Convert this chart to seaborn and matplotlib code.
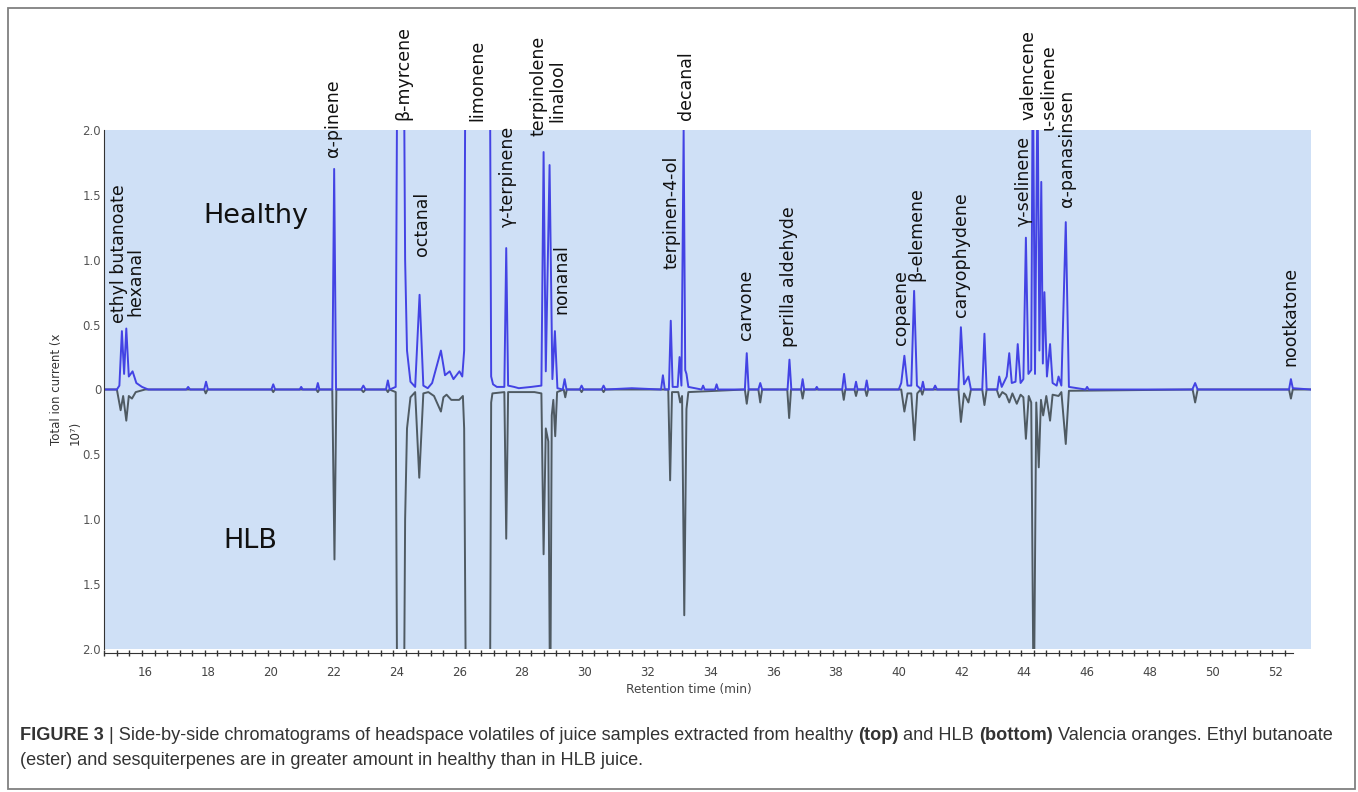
import numpy as np
import pandas as pd
import seaborn as sns
import matplotlib.pyplot as plt
from matplotlib.patches import Rectangle
from matplotlib.ticker import FixedLocator

# healthy juice chromatogram: (retention time in min, total ion current x1e7)
healthy_trace = [
    (14.69, 0.0), (15.10, 0.0), (15.18, 0.03), (15.26, 0.45), (15.33, 0.12),
    (15.40, 0.47), (15.48, 0.10), (15.60, 0.14), (15.72, 0.05), (15.90, 0.02),
    (16.10, 0.0), (17.31, 0.0), (17.37, 0.02), (17.43, 0.0), (17.88, 0.0),
    (17.94, 0.06), (18.00, 0.0), (20.02, 0.0), (20.08, 0.04), (20.14, 0.0),
    (20.92, 0.0), (20.97, 0.02), (21.02, 0.0), (21.45, 0.0), (21.50, 0.05),
    (21.55, 0.0), (21.96, 0.0), (22.02, 1.70), (22.08, 0.0), (22.88, 0.0),
    (22.95, 0.03), (23.02, 0.0), (23.67, 0.0), (23.73, 0.07), (23.79, 0.0),
    (23.98, 0.02), (24.03, 2.60), (24.24, 2.60), (24.28, 1.00), (24.34, 0.30),
    (24.45, 0.06), (24.60, 0.02), (24.74, 0.73), (24.86, 0.03), (25.00, 0.01),
    (25.14, 0.05), (25.24, 0.14), (25.42, 0.30), (25.55, 0.11), (25.70, 0.14),
    (25.82, 0.08), (26.01, 0.14), (26.10, 0.10), (26.16, 0.30), (26.20, 2.60),
    (26.98, 2.60), (27.02, 0.10), (27.08, 0.04), (27.20, 0.02), (27.44, 0.02),
    (27.50, 1.09), (27.56, 0.03), (27.75, 0.02), (27.90, 0.01), (28.30, 0.02),
    (28.62, 0.03), (28.69, 1.83), (28.76, 0.14), (28.88, 1.73), (28.97, 0.08),
    (29.05, 0.45), (29.13, 0.01), (29.30, 0.0), (29.36, 0.08), (29.42, 0.0),
    (29.84, 0.0), (29.90, 0.03), (29.96, 0.0), (30.54, 0.0), (30.60, 0.03),
    (30.66, 0.0), (31.50, 0.01), (32.43, 0.0), (32.49, 0.11), (32.55, 0.0),
    (32.68, 0.0), (32.74, 0.53), (32.80, 0.02), (32.96, 0.02), (33.02, 0.25),
    (33.08, 0.03), (33.15, 2.00), (33.20, 0.15), (33.24, 0.12), (33.30, 0.02),
    (33.72, 0.0), (33.77, 0.03), (33.82, 0.0), (34.15, 0.0), (34.20, 0.04),
    (34.25, 0.0), (35.10, 0.0), (35.16, 0.28), (35.22, 0.0), (35.53, 0.0),
    (35.59, 0.05), (35.65, 0.0), (36.46, 0.0), (36.52, 0.23), (36.58, 0.0),
    (36.89, 0.0), (36.94, 0.08), (36.99, 0.0), (37.34, 0.0), (37.39, 0.02),
    (37.44, 0.0), (38.20, 0.0), (38.26, 0.12), (38.32, 0.0), (38.59, 0.0),
    (38.64, 0.06), (38.69, 0.0), (38.93, 0.0), (38.98, 0.07), (39.03, 0.0),
    (40.00, 0.0), (40.08, 0.05), (40.18, 0.26), (40.28, 0.03), (40.40, 0.03),
    (40.49, 0.76), (40.58, 0.03), (40.72, 0.0), (40.77, 0.06), (40.82, 0.0),
    (41.10, 0.0), (41.16, 0.03), (41.22, 0.0), (41.90, 0.0), (41.98, 0.48),
    (42.08, 0.04), (42.22, 0.10), (42.30, 0.0), (42.66, 0.0), (42.73, 0.43),
    (42.80, 0.0), (43.14, 0.0), (43.20, 0.10), (43.28, 0.02), (43.44, 0.10),
    (43.52, 0.28), (43.60, 0.05), (43.72, 0.06), (43.79, 0.35), (43.88, 0.05),
    (43.97, 0.08), (44.05, 1.17), (44.13, 0.12), (44.22, 0.15), (44.27, 2.60),
    (44.34, 0.12), (44.42, 2.40), (44.48, 0.30), (44.54, 1.60), (44.59, 0.20),
    (44.64, 0.75), (44.72, 0.10), (44.82, 0.35), (44.90, 0.05), (45.03, 0.03),
    (45.09, 0.10), (45.18, 0.03), (45.32, 1.29), (45.42, 0.02), (45.95, 0.0),
    (46.00, 0.02), (46.05, 0.0), (49.35, 0.0), (49.44, 0.05), (49.52, 0.0),
    (52.43, 0.0), (52.49, 0.08), (52.55, 0.01), (53.13, 0.0),
]

# HLB juice chromatogram, drawn mirrored below the baseline
hlb_trace = [
    (14.69, 0.0), (15.10, 0.0), (15.22, -0.16), (15.30, -0.05), (15.40, -0.24),
    (15.48, -0.05), (15.58, -0.07), (15.70, -0.02), (16.00, 0.0), (17.88, 0.0),
    (17.93, -0.03), (17.99, 0.0), (20.03, 0.0), (20.08, -0.02), (20.13, 0.0),
    (21.45, 0.0), (21.50, -0.02), (21.55, 0.0), (21.96, 0.0), (22.03, -1.31),
    (22.09, 0.0), (22.88, 0.0), (22.95, -0.02), (23.02, 0.0), (23.68, 0.0),
    (23.73, -0.02), (23.78, 0.0), (23.98, -0.02), (24.03, -2.60), (24.24, -2.60),
    (24.28, -1.00), (24.34, -0.30), (24.45, -0.06), (24.60, -0.02), (24.73, -0.68),
    (24.86, -0.03), (25.02, -0.02), (25.20, -0.05), (25.42, -0.17), (25.50, -0.06),
    (25.60, -0.04), (25.75, -0.08), (26.00, -0.08), (26.12, -0.05), (26.16, -0.30),
    (26.22, -2.60), (26.98, -2.60), (27.02, -0.10), (27.06, -0.03), (27.44, -0.02),
    (27.50, -1.15), (27.56, -0.02), (28.40, -0.02), (28.62, -0.03), (28.69, -1.27),
    (28.76, -0.30), (28.84, -0.40), (28.90, -2.60), (28.95, -0.20), (29.00, -0.08),
    (29.06, -0.36), (29.12, -0.02), (29.33, 0.0), (29.38, -0.06), (29.43, 0.0),
    (29.85, 0.0), (29.90, -0.02), (29.95, 0.0), (30.55, 0.0), (30.60, -0.02),
    (30.65, 0.0), (32.66, 0.0), (32.72, -0.70), (32.78, -0.02), (32.98, -0.02),
    (33.04, -0.10), (33.10, -0.05), (33.17, -1.74), (33.24, -0.15), (33.30, -0.02),
    (35.10, 0.0), (35.16, -0.11), (35.22, 0.0), (35.53, 0.0), (35.59, -0.10),
    (35.65, 0.0), (36.45, 0.0), (36.51, -0.22), (36.57, 0.0), (36.89, 0.0),
    (36.94, -0.07), (36.99, 0.0), (38.20, 0.0), (38.25, -0.08), (38.30, 0.0),
    (38.59, 0.0), (38.64, -0.05), (38.69, 0.0), (38.93, 0.0), (38.98, -0.05),
    (39.03, 0.0), (40.08, 0.0), (40.18, -0.17), (40.28, -0.03), (40.40, -0.03),
    (40.50, -0.39), (40.59, -0.03), (40.70, 0.0), (40.75, -0.04), (40.80, 0.0),
    (41.90, 0.0), (41.98, -0.25), (42.08, -0.03), (42.22, -0.10), (42.30, 0.0),
    (42.66, 0.0), (42.73, -0.12), (42.80, 0.0), (43.12, 0.0), (43.20, -0.06),
    (43.30, -0.02), (43.42, -0.04), (43.52, -0.10), (43.62, -0.03), (43.76, -0.11),
    (43.88, -0.04), (43.97, -0.06), (44.05, -0.38), (44.14, -0.05), (44.22, -0.10),
    (44.30, -2.60), (44.38, -0.10), (44.46, -0.60), (44.53, -0.08), (44.60, -0.20),
    (44.70, -0.05), (44.82, -0.24), (44.90, -0.04), (45.09, -0.05), (45.18, -0.02),
    (45.32, -0.42), (45.42, -0.01), (49.36, 0.0), (49.44, -0.10), (49.52, 0.0),
    (52.43, 0.0), (52.49, -0.07), (52.55, 0.0), (53.13, 0.0),
]

# compound names written above their peaks
compounds = ["ethyl butanoate", "hexanal", "α-pinene", "β-myrcene", "octanal",
             "limonene", "γ-terpinene", "terpinolene", "linalool", "nonanal",
             "terpinen-4-ol", "decanal", "carvone", "perilla aldehyde", "copaene",
             "β-elemene", "caryophydene", "γ-selinene", "valencene", "ι-selinene",
             "α-panasinsen", "nootkatone"]
label_rt = [15.17, 15.68, 21.98, 24.21, 24.81, 26.59, 27.55, 28.53, 29.14, 29.26,
            32.76, 33.24, 35.15, 36.52, 40.08, 40.55, 41.99, 43.99, 44.12, 44.78,
            45.36, 52.48]
label_y = [0.51, 0.57, 1.79, 2.08, 1.03, 2.07, 1.25, 1.95, 2.06, 0.58,
           0.93, 2.08, 0.38, 0.33, 0.34, 0.84, 0.56, 1.26, 2.08, 2.00,
           1.41, 0.18]

y_ticks = [2.0, 1.5, 1.0, 0.5, 0.0, -0.5, -1.0, -1.5, -2.0]
y_tick_labels = ["2.0", "1.5", "1.0", "0.5", "0", "0.5", "1.0", "1.5", "2.0"]
x_ticks = list(range(16, 53, 2))

healthy_df = pd.DataFrame(healthy_trace, columns=["rt", "tic"])
hlb_df = pd.DataFrame(hlb_trace, columns=["rt", "tic"])

W, H = 1358, 792
fig = plt.figure(figsize=(W / 100, H / 100), dpi=100)
ax = fig.add_axes([104 / W, 1 - 649 / H, (1311 - 104) / W, (649 - 130) / H])
ax.set_facecolor("#cfe0f6")

sns.lineplot(data=hlb_df, x="rt", y="tic", ax=ax, sort=False, estimator=None,
             color="#4f5a62", linewidth=1.4)
sns.lineplot(data=healthy_df, x="rt", y="tic", ax=ax, sort=False, estimator=None,
             color="#4343e4", linewidth=1.4)

ax.set_xlim(14.69, 53.13)
ax.set_ylim(-2.0, 2.0)
ax.set_xlabel("")
ax.set_ylabel("")

for side in ["top", "right"]:
    ax.spines[side].set_visible(False)
ax.spines["left"].set_color("#333333")
ax.spines["bottom"].set_color("#333333")
ax.spines["bottom"].set_position(("outward", 3))
ax.spines["bottom"].set_bounds(14.69, 52.55)

ax.set_yticks(y_ticks)
ax.set_yticklabels(y_tick_labels)
ax.tick_params(axis="y", length=0, pad=2, labelsize=8.5, labelcolor="#555555")
ax.set_xticks(x_ticks)
ax.set_xticklabels([str(v) for v in x_ticks])
ax.xaxis.set_minor_locator(FixedLocator(np.arange(14.7, 52.4, 0.4)))
ax.tick_params(axis="x", which="major", length=0, pad=9, labelsize=8.5,
               labelcolor="#444444")
ax.tick_params(axis="x", which="minor", direction="inout", length=5, width=1,
               color="#333333")

ax.text(19.53, 1.34, "Healthy", fontsize=19.5, ha="center", va="center", color="#111111")
ax.text(19.34, -1.17, "HLB", fontsize=19.5, ha="center", va="center", color="#111111")

for name, rt, yy in zip(compounds, label_rt, label_y):
    ax.text(rt, yy, name, rotation=90, ha="center", va="bottom", fontsize=12.5,
            color="#111111", clip_on=False)

fig.text(66 / W, 1 - 445 / H, "Total ion current (x\n10⁷)", rotation=90,
         ha="center", va="bottom", multialignment="left", fontsize=8.5,
         color="#333333", linespacing=1.6)
fig.text(689 / W, 1 - 689 / H, "Retention time (min)", ha="center", va="center",
         fontsize=8.7, color="#444444")

# outer frame around figure and caption
fig.add_artist(Rectangle((8 / W, 1 - 789 / H), (1355 - 8) / W, (789 - 8) / H,
                         transform=fig.transFigure, fill=False,
                         edgecolor="#808080", linewidth=1.3))

# caption with bold runs
cap_family = ["Liberation Sans Narrow", "Liberation Sans"]
line1 = [("FIGURE 3", True), (" | Side-by-side chromatograms of headspace volatiles of juice samples extracted from healthy ", False),
         ("(top)", True), (" and HLB ", False), ("(bottom)", True),
         (" Valencia oranges. Ethyl butanoate", False)]
line2 = [("(ester) and sesquiterpenes are in greater amount in healthy than in HLB juice.", False)]

renderer = fig.canvas.get_renderer()


def run_width(runs, size):
    total = 0
    for txt, bold in runs:
        t = fig.text(0, 0, txt.replace(" ", "\u00a0"), fontsize=size,
                     fontweight="bold" if bold else "normal", family=cap_family)
        total += t.get_window_extent(renderer=renderer).width
        t.remove()
    return total


cap_size = 11.0 * (1312 / run_width(line1, 11.0))


def draw_runs(runs, x0, y0, size):
    x = x0
    for txt, bold in runs:
        t = fig.text(x / W, 1 - y0 / H, txt.replace(" ", "\u00a0"), fontsize=size,
                     fontweight="bold" if bold else "normal", family=cap_family,
                     color="#333333", ha="left", va="baseline")
        x += t.get_window_extent(renderer=renderer).width


draw_runs(line1, 20, 740, cap_size)
draw_runs(line2, 20, 765, cap_size)

fig.savefig("out.png", dpi=100)
